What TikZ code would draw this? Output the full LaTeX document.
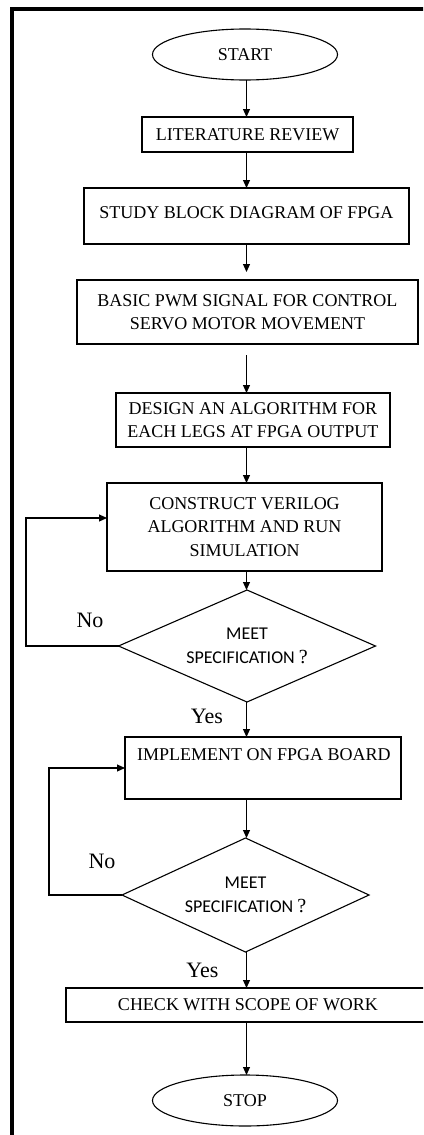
\documentclass[tikz,border=0pt]{standalone}
\usepackage{fontspec}
\setmainfont{Liberation Serif}
\newfontfamily\carl{Carlito}
\usetikzlibrary{arrows.meta,shapes.geometric}
\begin{document}
\begin{tikzpicture}[x=1pt,y=-1pt,
 every node/.style={inner sep=0pt, outer sep=0pt},
 box/.style={draw, line width=1.1pt, rectangle, align=center, font=\fontsize{18}{23.5}\selectfont},
 txt/.style={anchor=base, align=center, font=\fontsize{18}{23.5}\selectfont},
 term/.style={draw, line width=1.1pt, ellipse, minimum width=185pt, minimum height=51pt, font=\fontsize{18}{22}\selectfont},
 dec/.style={draw, line width=1.1pt, diamond, shape aspect=2.3, align=center, font=\carl\fontsize{18}{24}\selectfont},
 lbl/.style={anchor=base, font=\fontsize{22}{24}\selectfont},
 arr/.style={line width=1.1pt, -{Triangle[length=8pt,width=7pt]}},
 frame/.style={line width=3.5pt}
]
\useasboundingbox (0,0) rectangle (423,1135);
\clip (0,0) rectangle (423,1135);
\fill[white] (0,0) rectangle (423,1135);
\draw[frame] (430,9) -- (12,9) -- (12,1140);
\coordinate (spine) at (246.5,0);

\node[term] (start) at (245,54.5) {START};
\node[box, minimum width=211pt, minimum height=35pt] (lit) at (247.5,134.5) {LITERATURE REVIEW};
\node[box, minimum width=325pt, minimum height=56pt] (study) at (246.5,216) {};
\node[txt] (studyt) at (246.5,218) {STUDY BLOCK DIAGRAM OF FPGA};
\node[box, minimum width=341pt, minimum height=64pt] (basic) at (247.5,312) {BASIC PWM SIGNAL FOR CONTROL\\SERVO MOTOR MOVEMENT};
\node[box, minimum width=274pt, minimum height=54pt] (design) at (253,420) {DESIGN AN ALGORITHM FOR\\EACH LEGS AT FPGA OUTPUT};
\node[box, minimum width=275pt, minimum height=88pt] (construct) at (244.5,527) {CONSTRUCT VERILOG\\ALGORITHM AND RUN\\SIMULATION};
\node[dec, minimum width=257pt, minimum height=112pt] (d1) at (247,646) {MEET\\SPECIFICATION {\rmfamily\fontsize{20}{24}\selectfont ?}};
\node[box, minimum width=276pt, minimum height=62pt] (implement) at (263,768) {};
\node[txt] (implementt) at (264,760) {IMPLEMENT ON FPGA BOARD};
\node[dec, minimum width=247pt, minimum height=114pt] (d2) at (245.5,895) {MEET\\SPECIFICATION {\rmfamily\fontsize{20}{24}\selectfont ?}};
\node[box, minimum width=364pt, minimum height=34pt] (check) at (248,1005) {CHECK WITH SCOPE OF WORK};
\node[term] (stop) at (245,1100.5) {STOP};

\node[lbl] (no1) at (90,627) {No};
\node[lbl] (yes1) at (207,723) {Yes};
\node[lbl] (no2) at (102,868) {No};
\node[lbl] (yes2) at (202.5,977) {Yes};

\draw[arr] (start.south -| spine) -- (lit.north -| spine);
\draw[arr] (lit.south -| spine) -- (study.north -| spine);
\draw[arr, shorten >=8pt] (study.south -| spine) -- (basic.north -| spine);
\draw[arr, shorten <=11pt] (basic.south -| spine) -- (design.north -| spine);
\draw[arr] (design.south -| spine) -- (construct.north -| spine);
\draw[arr] (construct.south -| spine) -- (d1.north -| spine);
\draw[arr] (d1.south -| spine) -- (implement.north -| spine);
\draw[arr] (implement.south -| spine) -- (d2.north -| spine);
\draw[arr] (d2.south -| spine) -- (check.north -| spine);
\draw[arr] (check.south -| spine) -- (stop.north -| spine);

\coordinate (n1a) at (26,646);
\coordinate (n1b) at (26,518);
\draw[arr] (d1.west) -- (n1a) -- (n1b) -- (construct.west |- n1b);
\coordinate (n2a) at (49,895);
\coordinate (n2b) at (49,768);
\draw[arr] (d2.west) -- (n2a) -- (n2b) -- (implement.west |- n2b);
\end{tikzpicture}
\end{document}
